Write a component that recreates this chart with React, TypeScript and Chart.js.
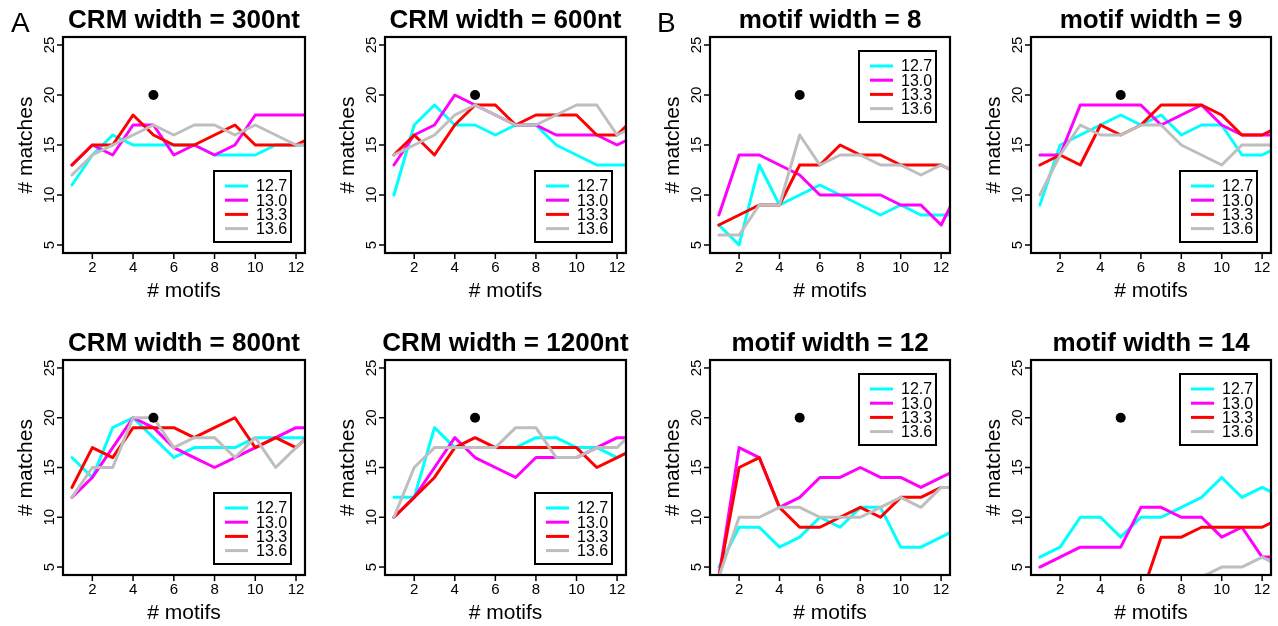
import React, { useEffect, useRef } from "react";
import { Chart, registerables } from "chart.js";
Chart.register(...registerables);

// ---------- data ----------
const motifs = [1, 2, 3, 4, 5, 6, 7, 8, 9, 10, 11, 12, 13];
const seriesLabels = ["12.7", "13.0", "13.3", "13.6"];
const seriesColors = ["#00FFFF", "#FF00FF", "#FF0000", "#BEBEBE"];
const xTickValues = [2, 4, 6, 8, 10, 12];
const yTickValues = [5, 10, 15, 20, 25];
const refX = [5];
const refY = [20];

const crm300_127 = [11, 14, 16, 15, 15, 15, 15, 14, 14, 14, 15, 15, 15];
const crm300_130 = [13, 15, 14, 17, 17, 14, 15, 14, 15, 18, 18, 18, 18];
const crm300_133 = [13, 15, 15, 18, 16, 15, 15, 16, 17, 15, 15, 15, 16];
const crm300_136 = [12, 14, 15, 16, 17, 16, 17, 17, 16, 17, 16, 15, 15];

const crm600_127 = [10, 17, 19, 17, 17, 16, 17, 17, 15, 14, 13, 13, 13];
const crm600_130 = [13, 16, 17, 20, 19, 18, 17, 17, 16, 16, 16, 15, 16];
const crm600_133 = [14, 16, 14, 17, 19, 19, 17, 18, 18, 18, 16, 16, 18];
const crm600_136 = [14, 15, 16, 18, 19, 18, 17, 17, 18, 19, 19, 16, 17];

const crm800_127 = [16, 14, 19, 20, 18, 16, 17, 17, 17, 18, 18, 18, 18];
const crm800_130 = [12, 14, 17, 20, 19, 17, 16, 15, 16, 17, 18, 19, 19];
const crm800_133 = [13, 17, 16, 19, 19, 19, 18, 19, 20, 17, 18, 17, 19];
const crm800_136 = [12, 15, 15, 20, 20, 17, 18, 18, 16, 18, 15, 17, 19];

const crm1200_127 = [12, 12, 19, 17, 17, 17, 17, 18, 18, 17, 17, 16, 17];
const crm1200_130 = [10, 12, 15, 18, 16, 15, 14, 16, 16, 16, 17, 18, 18];
const crm1200_133 = [10, 12, 14, 17, 18, 17, 17, 17, 17, 17, 15, 16, 17];
const crm1200_136 = [10, 15, 17, 17, 17, 17, 19, 19, 16, 16, 17, 17, 19];

const mw8_127 = [7, 5, 13, 9, 10, 11, 10, 9, 8, 9, 8, 8, 8];
const mw8_130 = [8, 14, 14, 13, 12, 10, 10, 10, 10, 9, 9, 7, 11];
const mw8_133 = [7, 8, 9, 9, 13, 13, 15, 14, 14, 13, 13, 13, 12];
const mw8_136 = [6, 6, 9, 9, 16, 13, 14, 14, 13, 13, 12, 13, 12];

const mw9_127 = [9, 15, 16, 17, 18, 17, 18, 16, 17, 17, 14, 14, 15];
const mw9_130 = [14, 14, 19, 19, 19, 19, 17, 18, 19, 17, 16, 16, 16];
const mw9_133 = [13, 14, 13, 17, 16, 17, 19, 19, 19, 18, 16, 16, 17];
const mw9_136 = [10, 14, 17, 16, 16, 17, 17, 15, 14, 13, 15, 15, 15];

const mw12_127 = [5, 9, 9, 7, 8, 10, 9, 11, 11, 7, 7, 8, 9];
const mw12_130 = [4, 17, 16, 11, 12, 14, 14, 15, 14, 14, 13, 14, 15];
const mw12_133 = [4, 15, 16, 11, 9, 9, 10, 11, 10, 12, 12, 13, 13];
const mw12_136 = [4, 10, 10, 11, 11, 10, 10, 10, 11, 12, 11, 13, 13];

const mw14_127 = [6, 7, 10, 10, 8, 10, 10, 11, 12, 14, 12, 13, 12];
const mw14_130 = [5, 6, 7, 7, 7, 11, 11, 10, 10, 8, 9, 6, 6];
const mw14_133 = [2, 2, 2, 2, 2, 2, 8, 8, 9, 9, 9, 9, 10];
const mw14_136 = [2, 2, 2, 2, 2, 3, 3, 3, 4, 5, 5, 6, 5];

const titles = [
  "CRM width = 300nt",
  "CRM width = 600nt",
  "motif width = 8",
  "motif width = 9",
  "CRM width = 800nt",
  "CRM width = 1200nt",
  "motif width = 12",
  "motif width = 14",
];

// ---------- layout ----------
const FONT = "'Liberation Sans', Arial, Helvetica, sans-serif";
const colCanvas = [
  [0, 320],
  [320, 640],
  [640, 958],
  [958, 1278],
];
const rowCanvas = [
  [0, 313],
  [313, 626],
];
const colBox = [
  [63, 305],
  [385, 626],
  [710, 950],
  [1031, 1271],
];
const rowBox = [
  [37, 253],
  [360, 575],
];

type Panel = {
  title: string;
  series: number[][];
  legend: "tr" | "br";
  col: number;
  row: number;
  letter?: string;
};

const panels: Panel[] = [
  { title: titles[0], series: [crm300_127, crm300_130, crm300_133, crm300_136], legend: "br", col: 0, row: 0, letter: "A" },
  { title: titles[1], series: [crm600_127, crm600_130, crm600_133, crm600_136], legend: "br", col: 1, row: 0 },
  { title: titles[2], series: [mw8_127, mw8_130, mw8_133, mw8_136], legend: "tr", col: 2, row: 0, letter: "B" },
  { title: titles[3], series: [mw9_127, mw9_130, mw9_133, mw9_136], legend: "br", col: 3, row: 0 },
  { title: titles[4], series: [crm800_127, crm800_130, crm800_133, crm800_136], legend: "br", col: 0, row: 1 },
  { title: titles[5], series: [crm1200_127, crm1200_130, crm1200_133, crm1200_136], legend: "br", col: 1, row: 1 },
  { title: titles[6], series: [mw12_127, mw12_130, mw12_133, mw12_136], legend: "tr", col: 2, row: 1 },
  { title: titles[7], series: [mw14_127, mw14_130, mw14_133, mw14_136], legend: "tr", col: 3, row: 1 },
];

function PanelChart({ p }: { p: Panel }) {
  const ref = useRef<HTMLCanvasElement | null>(null);
  const [cx0, cx1] = colCanvas[p.col];
  const [cy0, cy1] = rowCanvas[p.row];
  const [bl, br] = colBox[p.col];
  const [bt, bb] = rowBox[p.row];
  const w = cx1 - cx0;
  const h = cy1 - cy0;

  useEffect(() => {
    if (!ref.current) return;
    const decor = {
      id: "decor",
      afterDraw(chart: any) {
        const ctx = chart.ctx as CanvasRenderingContext2D;
        const a = chart.chartArea;
        const xs = chart.scales.x;
        const ys = chart.scales.y;
        ctx.save();
        ctx.fillStyle = "#000";
        ctx.strokeStyle = "#000";
        // box
        ctx.lineWidth = 2.2;
        ctx.strokeRect(a.left, a.top, a.right - a.left, a.bottom - a.top);
        // x ticks
        ctx.lineWidth = 1.5;
        ctx.font = `15px ${FONT}`;
        ctx.textAlign = "center";
        ctx.textBaseline = "middle";
        for (const v of xTickValues) {
          const px = xs.getPixelForValue(v);
          ctx.beginPath();
          ctx.moveTo(px, a.bottom);
          ctx.lineTo(px, a.bottom + 6);
          ctx.stroke();
          ctx.fillText(String(v), px, a.bottom + 15);
        }
        // y ticks
        for (const v of yTickValues) {
          const py = ys.getPixelForValue(v);
          ctx.beginPath();
          ctx.moveTo(a.left - 6, py);
          ctx.lineTo(a.left, py);
          ctx.stroke();
          ctx.save();
          ctx.translate(a.left - 13, py);
          ctx.rotate(-Math.PI / 2);
          ctx.fillText(String(v), 0, 0);
          ctx.restore();
        }
        // axis titles
        ctx.font = `21px ${FONT}`;
        ctx.fillText("# motifs", (a.left + a.right) / 2, a.bottom + 38);
        ctx.save();
        ctx.translate(a.left - 37, (a.top + a.bottom) / 2);
        ctx.rotate(-Math.PI / 2);
        ctx.fillText("# matches", 0, 0);
        ctx.restore();
        // title
        ctx.font = `bold 26px ${FONT}`;
        ctx.textBaseline = "alphabetic";
        ctx.fillText(p.title, (a.left + a.right) / 2, a.top - 9);
        // panel letter
        if (p.letter) {
          ctx.font = `28px ${FONT}`;
          ctx.textAlign = "left";
          ctx.fillText(p.letter, p.col === 0 ? 11 : 17, 32);
        }
        // legend
        const lw = 77;
        const lh = 71;
        const lx = a.right - 14 - lw;
        const ly = p.legend === "tr" ? a.top + 14 : a.bottom - 11 - lh;
        ctx.fillStyle = "#fff";
        ctx.fillRect(lx, ly, lw, lh);
        ctx.lineWidth = 2;
        ctx.strokeStyle = "#000";
        ctx.strokeRect(lx, ly, lw, lh);
        ctx.font = `16px ${FONT}`;
        ctx.textAlign = "left";
        ctx.textBaseline = "middle";
        seriesLabels.forEach((lab, i) => {
          const yy = ly + 15 + i * 14.2;
          ctx.strokeStyle = seriesColors[i];
          ctx.lineWidth = 3;
          ctx.beginPath();
          ctx.moveTo(lx + 11, yy);
          ctx.lineTo(lx + 34, yy);
          ctx.stroke();
          ctx.fillStyle = "#000";
          ctx.fillText(lab, lx + 42, yy + 1);
        });
        ctx.restore();
      },
    };

    const datasets: any[] = p.series.map((vals, i) => ({
      type: "line",
      label: seriesLabels[i],
      data: motifs.map((m, k) => ({ x: m, y: vals[k] })),
      borderColor: seriesColors[i],
      backgroundColor: seriesColors[i],
      borderWidth: 3,
      pointRadius: 0,
      tension: 0,
      fill: false,
      clip: 0,
      borderCapStyle: "round",
      borderJoinStyle: "round",
      order: 3 - i,
    }));
    datasets.push({
      type: "scatter",
      label: "ref",
      data: refX.map((x, k) => ({ x, y: refY[k] })),
      backgroundColor: "#000",
      borderColor: "#000",
      borderWidth: 0,
      pointRadius: 5,
      showLine: false,
      order: -1,
    });

    const chart = new Chart(ref.current, {
      type: "line",
      data: { datasets },
      options: {
        responsive: false,
        animation: false,
        devicePixelRatio: 1,
        events: [],
        layout: {
          padding: {
            left: bl - cx0,
            right: cx1 - br,
            top: bt - cy0,
            bottom: cy1 - bb,
          },
        },
        plugins: {
          legend: { display: false },
          tooltip: { enabled: false },
          title: { display: false },
        },
        scales: {
          x: { type: "linear", min: 0.56, max: 12.44, display: false },
          y: { type: "linear", min: 4.2, max: 25.8, display: false },
        },
      } as any,
      plugins: [decor],
    });
    return () => chart.destroy();
  }, []);

  return (
    <canvas
      ref={ref}
      width={w}
      height={h}
      style={{ position: "absolute", left: cx0, top: cy0, width: w, height: h }}
    />
  );
}

export default function App() {
  return (
    <div
      style={{
        position: "absolute",
        left: 0,
        top: 0,
        width: 1278,
        height: 626,
        background: "#fff",
        overflow: "hidden",
      }}
    >
      {panels.map((p, i) => (
        <PanelChart key={i} p={p} />
      ))}
    </div>
  );
}
